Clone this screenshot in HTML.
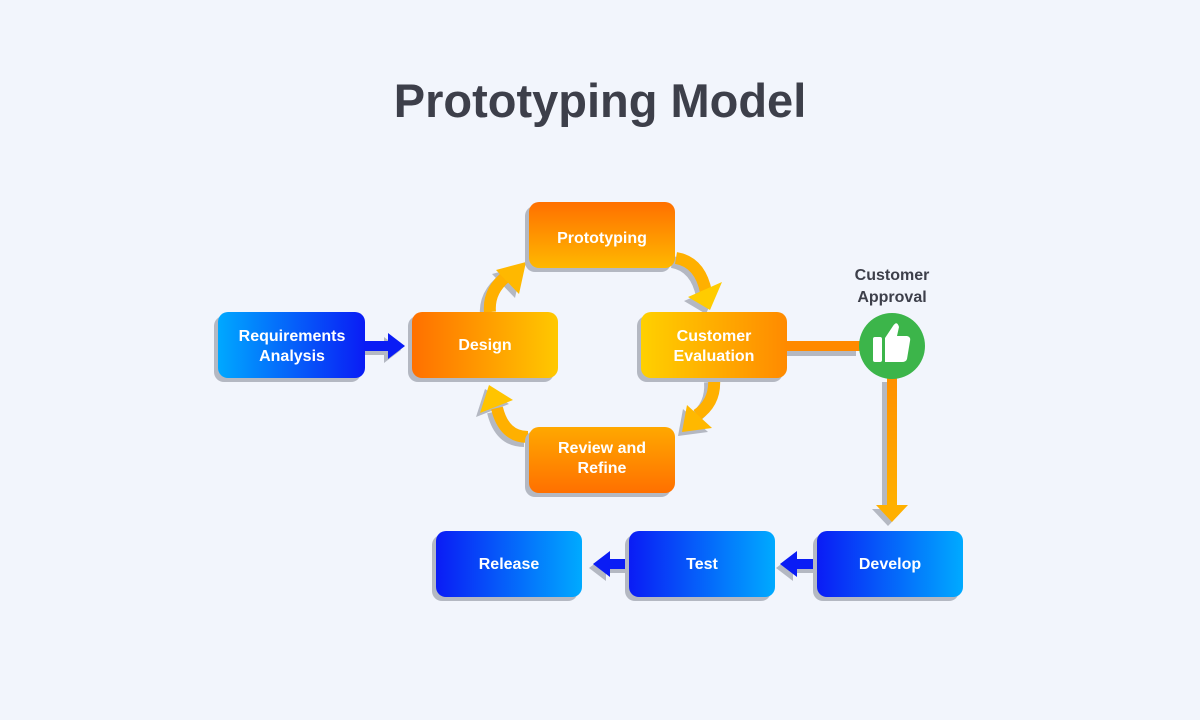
<!DOCTYPE html>
<html><head><meta charset="utf-8"><style>
body{margin:0;background:#f2f5fc;}
svg{display:block;font-family:"Liberation Sans",sans-serif;}
</style></head><body>
<svg width="1200" height="720" viewBox="0 0 1200 720" xmlns="http://www.w3.org/2000/svg">
<defs>
<linearGradient id="bL" x1="0" x2="1"><stop offset="0" stop-color="#00a8ff"/><stop offset="1" stop-color="#0a1cf5"/></linearGradient>
<linearGradient id="bR" x1="0" x2="1"><stop offset="0" stop-color="#0a1cf5"/><stop offset="1" stop-color="#00aaff"/></linearGradient>
<linearGradient id="oH" x1="0" x2="1"><stop offset="0" stop-color="#ff7000"/><stop offset="1" stop-color="#ffc800"/></linearGradient>
<linearGradient id="yH" x1="0" x2="1"><stop offset="0" stop-color="#ffd000"/><stop offset="1" stop-color="#ff8a00"/></linearGradient>
<linearGradient id="oV" x1="0" y1="0" x2="0" y2="1"><stop offset="0" stop-color="#ff7000"/><stop offset="1" stop-color="#ffb800"/></linearGradient>
<linearGradient id="oV2" x1="0" y1="0" x2="0" y2="1"><stop offset="0" stop-color="#ffa800"/><stop offset="1" stop-color="#ff7000"/></linearGradient>
<linearGradient id="vline" x1="0" y1="0" x2="0" y2="1"><stop offset="0" stop-color="#ff9000"/><stop offset="1" stop-color="#ffb000"/></linearGradient>
</defs>
<text x="600" y="117" text-anchor="middle" font-size="47" font-weight="bold" fill="#3d3f4a">Prototyping Model</text>

<g stroke="#b4b8c2" stroke-width="12" fill="none" transform="translate(-4,4)">
<path d="M490 312 Q488 290 508 275"/>
<path d="M676 258 Q700 262 706 292"/>
<path d="M714 378 Q716 402 697 415"/>
<path d="M528 437 Q504 437 497 408"/>
<path d="M787 346 H860"/>
<path d="M892 378 V505"/>
</g>
<g fill="#b4b8c2" transform="translate(-4,4)">
<polygon points="526,262 519,294 496,270"/>
<polygon points="688,297 722,282 710,310"/>
<polygon points="682,432 687,405 712,428"/>
<polygon points="489,385 513,400 480,413"/>
<polygon points="876,505 908,505 892,522"/>
</g>
<g stroke="#ffb000" stroke-width="12" fill="none">
<path d="M490 312 Q488 290 508 275"/>
<path d="M676 258 Q700 262 706 292"/>
<path d="M714 378 Q716 402 697 415"/>
<path d="M528 437 Q504 437 497 408"/>
</g>
<g fill="#ffb800">
<polygon points="526,262 519,294 496,270"/>
<polygon points="688,297 722,282 710,310" fill="#ffcc00"/>
<polygon points="682,432 687,405 712,428"/>
<polygon points="489,385 513,400 480,413" fill="#ffc400"/>
</g>
<rect x="787" y="341" width="73" height="10" fill="#ff8a00"/>
<rect x="887" y="378" width="10" height="127" fill="url(#vline)"/>
<polygon points="876,505 908,505 892,522" fill="#ffb000"/>

<g fill="#b4b8c2" transform="translate(-4,4)">
<rect x="365" y="341" width="25" height="10"/><polygon points="388,333 405,346 388,359"/>
<rect x="795" y="559" width="22" height="10"/><polygon points="797,551 780,564 797,577"/>
<rect x="608" y="559" width="22" height="10"/><polygon points="610,551 593,564 610,577"/>
</g>
<g fill="#0a1cf5">
<rect x="365" y="341" width="25" height="10"/><polygon points="388,333 405,346 388,359"/>
<rect x="795" y="559" width="22" height="10"/><polygon points="797,551 780,564 797,577"/>
<rect x="608" y="559" width="22" height="10"/><polygon points="610,551 593,564 610,577"/>
</g>

<g fill="#b4b8c2" transform="translate(-4,4)">
<rect x="218" y="312" width="147" height="66" rx="10"/>
<rect x="412" y="312" width="146" height="66" rx="10"/>
<rect x="529" y="202" width="146" height="66" rx="10"/>
<rect x="641" y="312" width="146" height="66" rx="10"/>
<rect x="529" y="427" width="146" height="66" rx="10"/>
<rect x="436" y="531" width="146" height="66" rx="10"/>
<rect x="629" y="531" width="146" height="66" rx="10"/>
<rect x="817" y="531" width="146" height="66" rx="10"/>
</g>
<rect x="218" y="312" width="147" height="66" rx="10" fill="url(#bL)"/>
<rect x="412" y="312" width="146" height="66" rx="10" fill="url(#oH)"/>
<rect x="529" y="202" width="146" height="66" rx="10" fill="url(#oV)"/>
<rect x="641" y="312" width="146" height="66" rx="10" fill="url(#yH)"/>
<rect x="529" y="427" width="146" height="66" rx="10" fill="url(#oV2)"/>
<rect x="436" y="531" width="146" height="66" rx="10" fill="url(#bR)"/>
<rect x="629" y="531" width="146" height="66" rx="10" fill="url(#bR)"/>
<rect x="817" y="531" width="146" height="66" rx="10" fill="url(#bR)"/>

<g fill="#fff" font-weight="bold" font-size="16" text-anchor="middle">
<text x="292" y="341">Requirements</text><text x="292" y="361">Analysis</text>
<text x="485" y="350">Design</text>
<text x="602" y="243">Prototyping</text>
<text x="714" y="341">Customer</text><text x="714" y="361">Evaluation</text>
<text x="602" y="453">Review and</text><text x="602" y="473">Refine</text>
<text x="509" y="569">Release</text>
<text x="702" y="569">Test</text>
<text x="890" y="569">Develop</text>
</g>

<circle cx="892" cy="346" r="33" fill="#3cb54a"/>
<rect x="873" y="337" width="9" height="25" rx="2" fill="#fff"/>
<path d="M885 338 L893 326 Q897 320 899 327 L897 336 L907 336 Q911 337 910 341 L907 359 Q906 362 902 362 L885 362 Z" fill="#fff"/>
<g fill="#3d3f4a" font-weight="bold" font-size="16" text-anchor="middle">
<text x="892" y="280">Customer</text><text x="892" y="302">Approval</text>
</g>
</svg>
</body></html>
